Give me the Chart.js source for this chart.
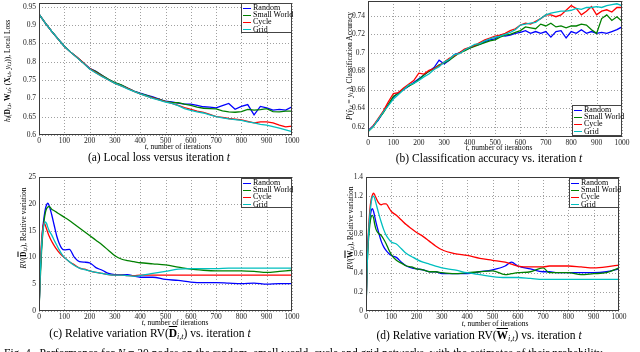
<!DOCTYPE html>
<html><head><meta charset="utf-8">
<script src="https://cdn.jsdelivr.net/npm/chart.js@4.4.1/dist/chart.umd.min.js"></script>
<style>
html,body{margin:0;padding:0;background:#fff;}
body{width:640px;height:352px;position:relative;overflow:hidden;font-family:"Liberation Serif","DejaVu Serif",serif;color:#000;}
.box{position:absolute;}
.ylab{position:absolute;white-space:nowrap;font-size:7.5px;transform:translate(-50%,-50%) rotate(-90deg);}
.xlab{position:absolute;white-space:nowrap;font-size:7.5px;transform:translate(-50%,-50%);}
.cap{position:absolute;white-space:nowrap;font-size:11.5px;transform:translate(-50%,-50%);}
.leg{position:absolute;background:#fff;border:1px solid #444;font-size:8px;line-height:7.2px;padding:0 1px;box-sizing:border-box;}
.leg div{white-space:nowrap}
.leg span{display:inline-block;width:8px;height:0;border-top:1.5px solid;vertical-align:middle;margin-right:2px}
sub{font-size:70%;vertical-align:-0.25em;line-height:0}
.ov{text-decoration:overline;font-weight:bold}
.fig{position:absolute;left:4px;top:347px;font-size:11.5px;white-space:nowrap}
</style>
</head><body>
<script>
const names=['Random','Small World','Cycle','Grid'];
const colors=['#0000ff','#008000','#ff0000','#00bfbf'];
const xTicks=[0,100,200,300,400,500,600,700,800,900,1000];

// (a) local loss
const tA=[0,25,50,75,100,125,150,175,200,225,250,275,300,325,350,375,400,425,450,475,500,525,550,575,600,625,650,675,700,725,750,775,800,825,850,875,900,925,950,975,1000];
const lossRandom=[0.930,0.905,0.883,0.862,0.842,0.826,0.812,0.797,0.782,0.774,0.762,0.751,0.742,0.736,0.728,0.720,0.714,0.709,0.704,0.698,0.692,0.690,0.687,0.684,0.684,0.681,0.677,0.676,0.674,0.680,0.686,0.670,0.678,0.683,0.655,0.678,0.674,0.668,0.670,0.668,0.677];
const lossSmall=[0.930,0.905,0.883,0.862,0.842,0.826,0.812,0.797,0.781,0.773,0.762,0.752,0.743,0.737,0.728,0.720,0.713,0.708,0.702,0.697,0.692,0.689,0.688,0.684,0.681,0.676,0.673,0.672,0.671,0.666,0.663,0.662,0.664,0.670,0.668,0.669,0.672,0.664,0.663,0.665,0.665];
const lossCycle=[0.930,0.905,0.883,0.862,0.842,0.826,0.812,0.797,0.781,0.770,0.760,0.750,0.741,0.734,0.727,0.719,0.712,0.706,0.701,0.696,0.691,0.686,0.681,0.675,0.670,0.665,0.662,0.656,0.650,0.648,0.645,0.643,0.641,0.637,0.633,0.636,0.636,0.633,0.627,0.622,0.624];
const lossGrid=[0.930,0.905,0.883,0.862,0.842,0.826,0.811,0.796,0.780,0.769,0.759,0.750,0.741,0.734,0.726,0.719,0.712,0.706,0.700,0.695,0.690,0.686,0.680,0.672,0.667,0.663,0.660,0.655,0.650,0.647,0.644,0.642,0.640,0.636,0.633,0.629,0.627,0.623,0.619,0.614,0.609];
const yTicksA=[0.6,0.65,0.7,0.75,0.8,0.85,0.9,0.95];

// (b) classification accuracy
const tB=[0,20,40,60,80,100,120,140,160,180,200,220,240,260,280,300,320,340,360,380,400,420,440,460,480,500,520,540,560,580,600,620,640,660,680,700,720,740,760,780,800,820,840,860,880,900,920,940,960,980,1000];
const accRandom=[0.616,0.621,0.627,0.636,0.644,0.652,0.657,0.660,0.664,0.668,0.672,0.676,0.680,0.684,0.692,0.688,0.692,0.698,0.700,0.703,0.705,0.708,0.709,0.712,0.714,0.715,0.719,0.718,0.719,0.721,0.722,0.724,0.721,0.723,0.721,0.723,0.717,0.723,0.724,0.716,0.723,0.721,0.725,0.721,0.723,0.721,0.722,0.721,0.723,0.725,0.728];
const accSmall=[0.615,0.620,0.628,0.635,0.644,0.653,0.656,0.661,0.664,0.667,0.671,0.676,0.680,0.683,0.687,0.689,0.692,0.696,0.700,0.702,0.705,0.707,0.709,0.711,0.713,0.714,0.717,0.719,0.720,0.722,0.724,0.728,0.727,0.726,0.731,0.729,0.732,0.728,0.729,0.727,0.729,0.729,0.731,0.730,0.725,0.721,0.737,0.741,0.735,0.739,0.734];
const accCycle=[0.615,0.621,0.629,0.637,0.647,0.656,0.657,0.662,0.666,0.670,0.678,0.677,0.681,0.683,0.686,0.690,0.694,0.697,0.700,0.704,0.706,0.708,0.711,0.714,0.716,0.718,0.719,0.721,0.724,0.726,0.730,0.732,0.731,0.734,0.737,0.741,0.741,0.739,0.741,0.746,0.751,0.748,0.741,0.745,0.750,0.741,0.745,0.7465,0.744,0.749,0.749];
const accGrid=[0.615,0.620,0.628,0.636,0.643,0.650,0.655,0.660,0.665,0.667,0.670,0.674,0.677,0.682,0.685,0.690,0.693,0.698,0.699,0.703,0.706,0.709,0.710,0.713,0.715,0.717,0.718,0.720,0.722,0.725,0.730,0.731,0.732,0.733,0.737,0.741,0.743,0.744,0.745,0.745,0.746,0.748,0.747,0.749,0.749,0.750,0.749,0.751,0.752,0.753,0.751];
const yTicksB=[0.62,0.64,0.66,0.68,0.7,0.72,0.74];

// (c) relative variation of D
const tC=[0,5,10,15,20,25,30,35,40,50,60,70,80,90,100,120,140,160,180,200,225,250,275,300,325,350,375,400,450,500,550,600,650,700,750,800,850,900,950,1000];
const rvdRandom=[0,7,12,15.5,17.5,19,19.8,20.1,19.7,18,16,14,12.6,11.7,11.4,11.5,10.0,9.2,9.1,9.0,8.1,7.6,7.0,6.8,6.8,6.8,6.5,6.3,6.3,5.9,5.7,5.4,5.3,5.3,5.2,5.1,5.2,5.0,5.1,5.1];
const rvdSmall=[0,6,11,14.5,16.8,18.3,19.1,19.4,19.5,19.0,18.7,18.4,18.1,17.8,17.5,16.9,16.2,15.5,14.8,14.1,13.2,12.3,11.3,10.3,9.7,9.4,9.2,9.0,8.8,8.6,8.2,7.8,7.6,7.5,7.5,7.5,7.4,7.2,7.4,7.6];
const rvdCycle=[0,8,13,15.5,16.5,16.0,15.3,14.6,14.0,13.0,12.2,11.5,10.9,10.4,10.0,9.2,8.6,8.0,7.8,7.5,7.2,7.0,6.8,6.7,6.7,6.6,6.6,6.7,6.7,6.7,6.7,6.7,6.7,6.7,6.7,6.7,6.7,6.7,6.7,6.7];
const rvdGrid=[0,7,12,14.8,16.2,16.6,16.3,15.6,15.0,14.2,13.2,12.3,11.4,10.6,10.0,9.2,8.5,8.0,7.7,7.5,7.2,7.0,6.8,6.7,6.7,6.6,6.5,6.6,7.0,7.4,7.8,7.9,7.9,7.9,8.0,8.0,8.0,8.0,8.0,8.0];
const yTicksC=[0,5,10,15,20,25];

// (d) relative variation of W
const tD=[0,5,10,15,20,25,30,35,40,50,60,70,80,90,100,120,140,160,180,200,225,250,275,300,350,400,450,500,550,575,600,650,700,725,750,800,850,900,950,1000];
const rvwRandom=[0,0.55,0.8,0.95,1.04,1.07,1.04,0.98,0.92,0.82,0.73,0.67,0.63,0.60,0.58,0.56,0.51,0.47,0.45,0.44,0.43,0.41,0.41,0.39,0.39,0.39,0.41,0.43,0.47,0.51,0.47,0.44,0.41,0.41,0.40,0.40,0.40,0.40,0.41,0.44];
const rvwSmall=[0,0.5,0.75,0.9,0.98,1.0,0.97,0.9,0.85,0.81,0.79,0.75,0.70,0.64,0.59,0.53,0.50,0.47,0.46,0.44,0.43,0.41,0.41,0.40,0.39,0.40,0.41,0.42,0.38,0.39,0.40,0.41,0.45,0.40,0.40,0.40,0.38,0.39,0.40,0.45];
const rvwCycle=[0,0.55,0.85,1.05,1.16,1.21,1.23,1.21,1.18,1.13,1.11,1.12,1.12,1.08,1.04,1.0,0.95,0.90,0.86,0.82,0.78,0.73,0.68,0.64,0.60,0.58,0.55,0.53,0.51,0.49,0.47,0.46,0.46,0.47,0.47,0.47,0.46,0.45,0.46,0.48];
const rvwGrid=[0,0.5,0.8,1.0,1.12,1.19,1.2,1.17,1.12,1.02,0.93,0.85,0.79,0.75,0.72,0.70,0.65,0.60,0.57,0.54,0.51,0.49,0.47,0.45,0.43,0.40,0.38,0.36,0.35,0.35,0.35,0.34,0.33,0.33,0.33,0.33,0.33,0.33,0.33,0.33];
const yTicksD=[0,0.2,0.4,0.6,0.8,1,1.2,1.4];

// dotted grid behind the lines, at the scales' own tick pixels
const dotGrid={id:'dotGrid',beforeDatasetsDraw(c){
  const a=c.chartArea,ctx=c.ctx,sx=c.scales.x,sy=c.scales.y;
  ctx.save();ctx.fillStyle='#a0a0a0';
  sx.ticks.forEach(t=>{const x=Math.round(sx.getPixelForValue(t.value));for(let y=a.top;y<a.bottom;y+=3)ctx.fillRect(x,y,1,1);});
  sy.ticks.forEach(t=>{const y=Math.round(sy.getPixelForValue(t.value));for(let x=a.left;x<a.right;x+=3)ctx.fillRect(x,y,1,1);});
  ctx.restore();
}};
const frame={id:'frame',afterDraw(c){
  const a=c.chartArea,ctx=c.ctx;
  ctx.save();ctx.strokeStyle='#3a3a3a';ctx.lineWidth=1;
  ctx.strokeRect(a.left+0.5,a.top+0.5,a.right-a.left-1,a.bottom-a.top-1);
  ctx.restore();
}};

function fmt(v){return String(+v.toFixed(3));}

function panel(L,T,R,B,tArr,series,ymin,ymax,yTicks,smooth){
  const YW=30,PT=10,PR=16,XH=14;
  const wrap=document.createElement('div');
  wrap.className='box';
  wrap.style.left=(L-YW)+'px';wrap.style.top=(T-PT)+'px';
  wrap.style.width=(YW+R-L+PR)+'px';wrap.style.height=(PT+B-T+XH)+'px';
  const cv=document.createElement('canvas');wrap.appendChild(cv);
  document.body.appendChild(wrap);
  const tickFont={family:'Liberation Serif',size:7.5};
  new Chart(cv,{
    type:'line',
    data:{datasets:series.map((s,i)=>({
      label:names[i],data:s.map((v,k)=>({x:tArr[k],y:v})),
      borderColor:colors[i],backgroundColor:colors[i],borderWidth:1.3,
      pointRadius:0,fill:false,order:3-i,tension:0,
      cubicInterpolationMode:smooth?'monotone':'default'
    }))},
    options:{
      responsive:true,maintainAspectRatio:false,animation:false,
      layout:{padding:{top:PT,right:PR,left:0,bottom:0}},
      plugins:{legend:{display:false},tooltip:{enabled:false}},
      scales:{
        x:{type:'linear',min:0,max:1000,
          afterBuildTicks:s=>{s.ticks=xTicks.map(v=>({value:v}));},
          afterFit:s=>{s.height=XH;},
          grid:{display:false},border:{display:false},
          ticks:{padding:-6,color:'#222',font:tickFont,maxRotation:0,autoSkip:false,callback:v=>fmt(v)}},
        y:{type:'linear',min:ymin,max:ymax,
          afterBuildTicks:s=>{s.ticks=yTicks.map(v=>({value:v}));},
          afterFit:s=>{s.width=YW;},
          grid:{display:false},border:{display:false},
          ticks:{padding:-5,color:'#222',font:tickFont,autoSkip:false,callback:v=>fmt(v)}}
      }
    },
    plugins:[dotGrid,frame]
  });
}

panel(39,3,292,135,tA,[lossRandom,lossSmall,lossCycle,lossGrid],0.6,0.96,yTicksA,false);
panel(368,1,622,137,tB,[accRandom,accSmall,accCycle,accGrid],0.609,0.756,yTicksB,false);
panel(39,177,292,311,tC,[rvdRandom,rvdSmall,rvdCycle,rvdGrid],0,25,yTicksC,true);
panel(366,177,619,311,tD,[rvwRandom,rvwSmall,rvwCycle,rvwGrid],0,1.4,yTicksD,true);

function legend(x,y,w,h){
  const d=document.createElement('div');d.className='leg';
  d.style.left=x+'px';d.style.top=y+'px';d.style.width=w+'px';d.style.height=h+'px';
  d.innerHTML=names.map((n,i)=>'<div><span style="border-color:'+colors[i]+'"></span>'+n+'</div>').join('');
  document.body.appendChild(d);
}
legend(241,3,51,30);
legend(572,105,50,31);
legend(241,178,51,30);
legend(569,178,50,30);
</script>
<div class="ylab" style="left:7px;top:71px"><i>h<sub>i</sub></i>(<b>D</b><sub><i>i,t</i></sub>, <b>W</b><sub><i>i,t</i></sub>; (<b>X</b><sub><i>i,t</i></sub>, <i>y<sub>i,t</sub></i>)), Local Loss</div>
<div class="ylab" style="left:349px;top:66px"><i>P</i>(<i>ŷ<sub>i,t</sub></i> = <i>y<sub>i,t</sub></i>), Classification Accuracy</div>
<div class="ylab" style="left:23px;top:228px"><i>RV</i>(<span class="ov">D</span><sub><i>i,t</i></sub>), Relative variation</div>
<div class="ylab" style="left:350px;top:228px"><i>RV</i>(<span class="ov">W</span><sub><i>i,t</i></sub>), Relative variation</div>
<div class="xlab" style="left:178px;top:146px"><i>t</i>, number of iterations</div>
<div class="xlab" style="left:499px;top:147px"><i>t</i>, number of iterations</div>
<div class="xlab" style="left:175px;top:322px"><i>t</i>, number of iterations</div>
<div class="xlab" style="left:495px;top:323px"><i>t</i>, number of iterations</div>
<div class="cap" style="left:159px;top:157px">(a) Local loss versus iteration <i>t</i></div>
<div class="cap" style="left:489px;top:158px">(b) Classification accuracy vs. iteration <i>t</i></div>
<div class="cap" style="left:150px;top:333px">(c) Relative variation RV(<span class="ov">D</span><sub><i>i,t</i></sub>) vs. iteration <i>t</i></div>
<div class="cap" style="left:479px;top:335px">(d) Relative variation RV(<span class="ov">W</span><sub><i>i,t</i></sub>) vs. iteration <i>t</i></div>
<div class="fig">Fig. 4.&nbsp; Performance for <i>N</i> = 20 nodes on the random, small world, cycle and grid networks, with the estimates of their probability</div>
</body></html>
